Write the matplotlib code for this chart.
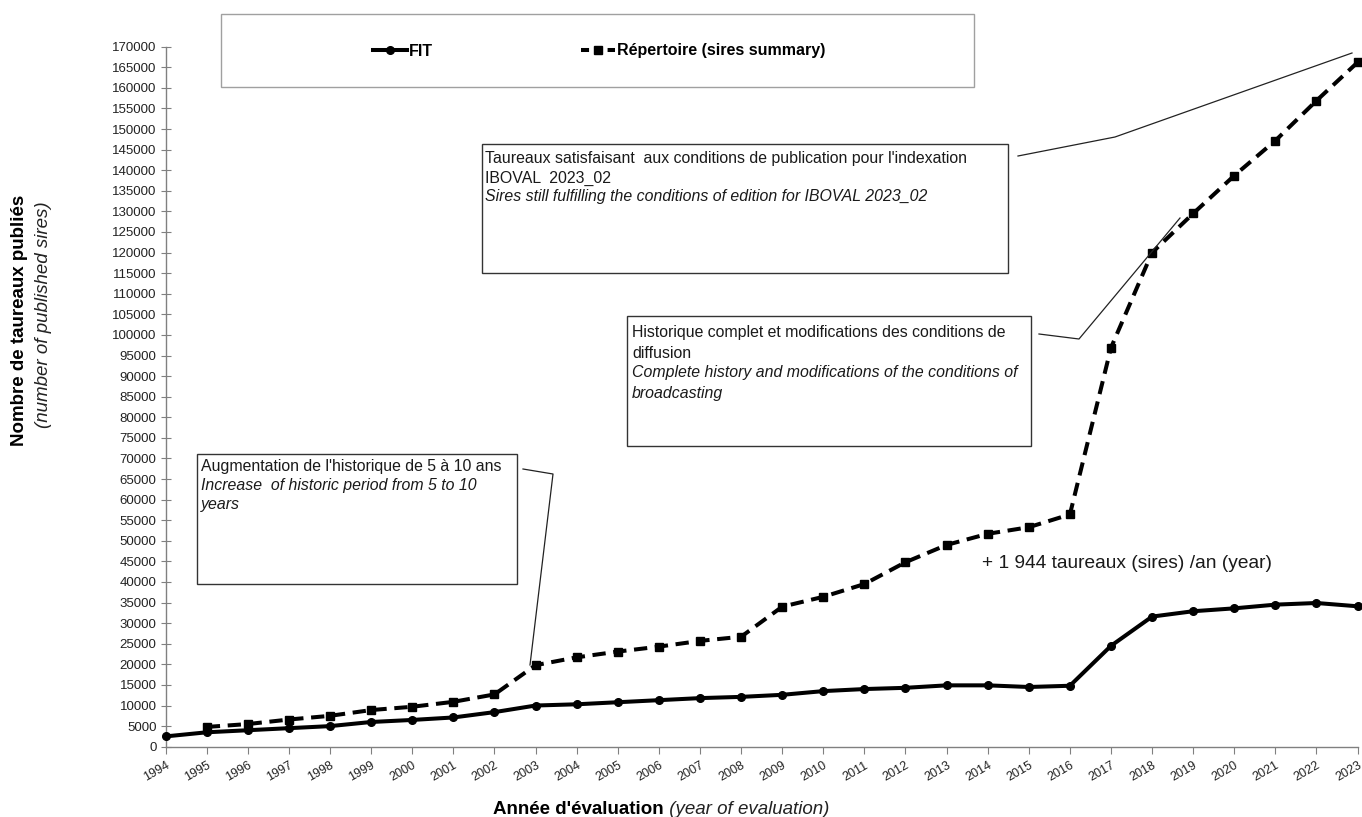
import matplotlib
matplotlib.use('Agg')
import matplotlib.pyplot as plt
from matplotlib.patches import Rectangle
from matplotlib.lines import Line2D
from matplotlib.ticker import FuncFormatter
from matplotlib import font_manager

plt.rcParams['font.family'] = ['Liberation Sans', 'DejaVu Sans']

# ---------------- data ----------------
years = [1994, 1995, 1996, 1997, 1998, 1999, 2000, 2001, 2002, 2003, 2004, 2005, 2006, 2007, 2008,
         2009, 2010, 2011, 2012, 2013, 2014, 2015, 2016, 2017, 2018, 2019, 2020, 2021, 2022, 2023]
fit = [2500, 3500, 4000, 4500, 5000, 6000, 6500, 7100, 8400, 10000, 10300, 10800, 11300, 11800, 12100,
       12600, 13500, 14000, 14300, 14900, 14900, 14500, 14800, 24500, 31600, 32900, 33600, 34500, 34900, 34100]
rep_years = years[1:]
repertoire = [4800, 5500, 6600, 7500, 8900, 9700, 10900, 12700, 19800, 21700, 23100, 24300, 25700, 26700,
              34000, 36400, 39500, 44800, 49000, 51700, 53300, 56400, 96900, 120000, 129500, 138700,
              147200, 156900, 166200]
y_ticks = list(range(0, 170001, 5000))
series_labels = ['FIT', 'Répertoire (sires summary)']

# ---------------- figure ----------------
W, H = 1362, 817
fig = plt.figure(figsize=(W / 100, H / 100), dpi=100)


def fx(x):
    return x / W


def fy(y):
    return 1 - y / H


ax = fig.add_axes([fx(165.7), fy(746.7), fx(1357.6) - fx(165.7), (746.7 - 46.7) / H])
ax.set_xlim(1994, 2023)
ax.set_ylim(0, 170000)

l1, = ax.plot(years, fit, color='black', lw=2.9, marker='o', ms=5.5,
              label=series_labels[0], clip_on=False, zorder=3)
l2, = ax.plot(rep_years, repertoire, color='black', lw=2.9, ls=(0, (3.3, 1.9)), marker='s', ms=6,
              label=series_labels[1], clip_on=False, zorder=3)

for s in ['top', 'right']:
    ax.spines[s].set_visible(False)
for s in ['left', 'bottom']:
    ax.spines[s].set_color('#808080')
    ax.spines[s].set_linewidth(1.0)

ax.set_yticks(y_ticks)
ax.yaxis.set_major_formatter(FuncFormatter(lambda v, p: f"{int(v)}"))
ax.tick_params(axis='y', direction='inout', length=7, color='#808080', labelsize=9.5, pad=3,
               labelcolor='#222222')
ax.set_xticks(years)
ax.set_xticklabels([str(y) for y in years], rotation=30, ha='right', va='top',
                   rotation_mode='anchor')
ax.tick_params(axis='x', direction='out', length=5, color='#808080', labelsize=9, pad=4,
               labelcolor='#222222')

# axis titles
fig.text(fx(20), fy(320), 'Nombre de taureaux publiés', rotation=90, fontweight='bold',
         fontsize=13.5, ha='center', va='center')
fig.text(fx(44), fy(315), '(number of published sires)', rotation=90, style='italic',
         fontsize=13.5, ha='center', va='center', color='#222222')
t1 = fig.text(fx(493), fy(809), "Année d'évaluation", fontweight='bold', fontsize=13.5,
              ha='left', va='center')
ax.annotate(' (year of evaluation)', xy=(1, 0.5), xycoords=t1, style='italic', fontsize=13.5,
            va='center', ha='left', annotation_clip=False, color='#222222')

# legend box
fig.add_artist(Rectangle((fx(221), fy(87)), fx(974) - fx(221), fy(14) - fy(87),
                         transform=fig.transFigure, facecolor='white', edgecolor='#a0a0a0',
                         lw=1.0, zorder=1))
names = {f.name for f in font_manager.fontManager.ttflist}
leg_family = 'Liberation Sans Narrow' if 'Liberation Sans Narrow' in names else 'Liberation Sans'
leg_size = 13.5 if leg_family == 'Liberation Sans Narrow' else 11.5
h1 = Line2D([], [], color='black', lw=2.9, marker='o', ms=5.5)
h2 = Line2D([], [], color='black', lw=2.9, ls=(0, (2.0, 1.3)), marker='s', ms=6)
fig.legend([h1, h2], series_labels, loc='center left', bbox_to_anchor=(fx(373), fy(51)),
           ncol=2, frameon=False, prop={'weight': 'bold', 'size': leg_size, 'family': leg_family},
           handlelength=34 / (leg_size * 100 / 72), handletextpad=0.12,
           columnspacing=148 / (leg_size * 100 / 72), borderpad=0, borderaxespad=0, numpoints=1)


def box(x0, y0, x1, y1):
    fig.add_artist(Rectangle((fx(x0), fy(y1)), fx(x1) - fx(x0), fy(y0) - fy(y1),
                             transform=fig.transFigure, facecolor='white', edgecolor='#333333',
                             lw=1.0, zorder=1))


def lines(x, y0, dy, items, size=11.4):
    for i, (txt, it) in enumerate(items):
        fig.text(fx(x), fy(y0 + i * dy), txt, fontsize=size, style='italic' if it else 'normal',
                 ha='left', va='center', color='#1a1a1a', zorder=4)


def leader(pts):
    fig.add_artist(Line2D([fx(p[0]) for p in pts], [fy(p[1]) for p in pts], color='#222222',
                          lw=0.9, transform=fig.transFigure, zorder=4))


# annotation 1
box(482, 144, 1008, 273)
lines(485, 159, 19, [("Taureaux satisfaisant  aux conditions de publication pour l'indexation", False),
                     ("IBOVAL  2023_02", False),
                     ("Sires still fulfilling the conditions of edition for IBOVAL 2023_02", True)])
leader([(1018, 156), (1115, 137), (1352, 53)])

# annotation 2
box(627, 316, 1031, 446)
lines(632, 333, 20, [("Historique complet et modifications des conditions de", False),
                     ("diffusion", False),
                     ("Complete history and modifications of the conditions of", True),
                     ("broadcasting", True)])
leader([(1039, 334), (1079, 339), (1180, 218)])

# annotation 3
box(197, 454, 517, 584)
lines(201, 467, 18.5, [("Augmentation de l'historique de 5 à 10 ans", False),
                       ("Increase  of historic period from 5 to 10", True),
                       ("years", True)])
leader([(523, 469), (553, 474), (530, 665)])

fig.text(fx(982), fy(564), '+ 1 944 taureaux (sires) /an (year)', fontsize=13.8, ha='left',
         va='center', color='#1a1a1a')

fig.savefig('out.png', dpi=100)
